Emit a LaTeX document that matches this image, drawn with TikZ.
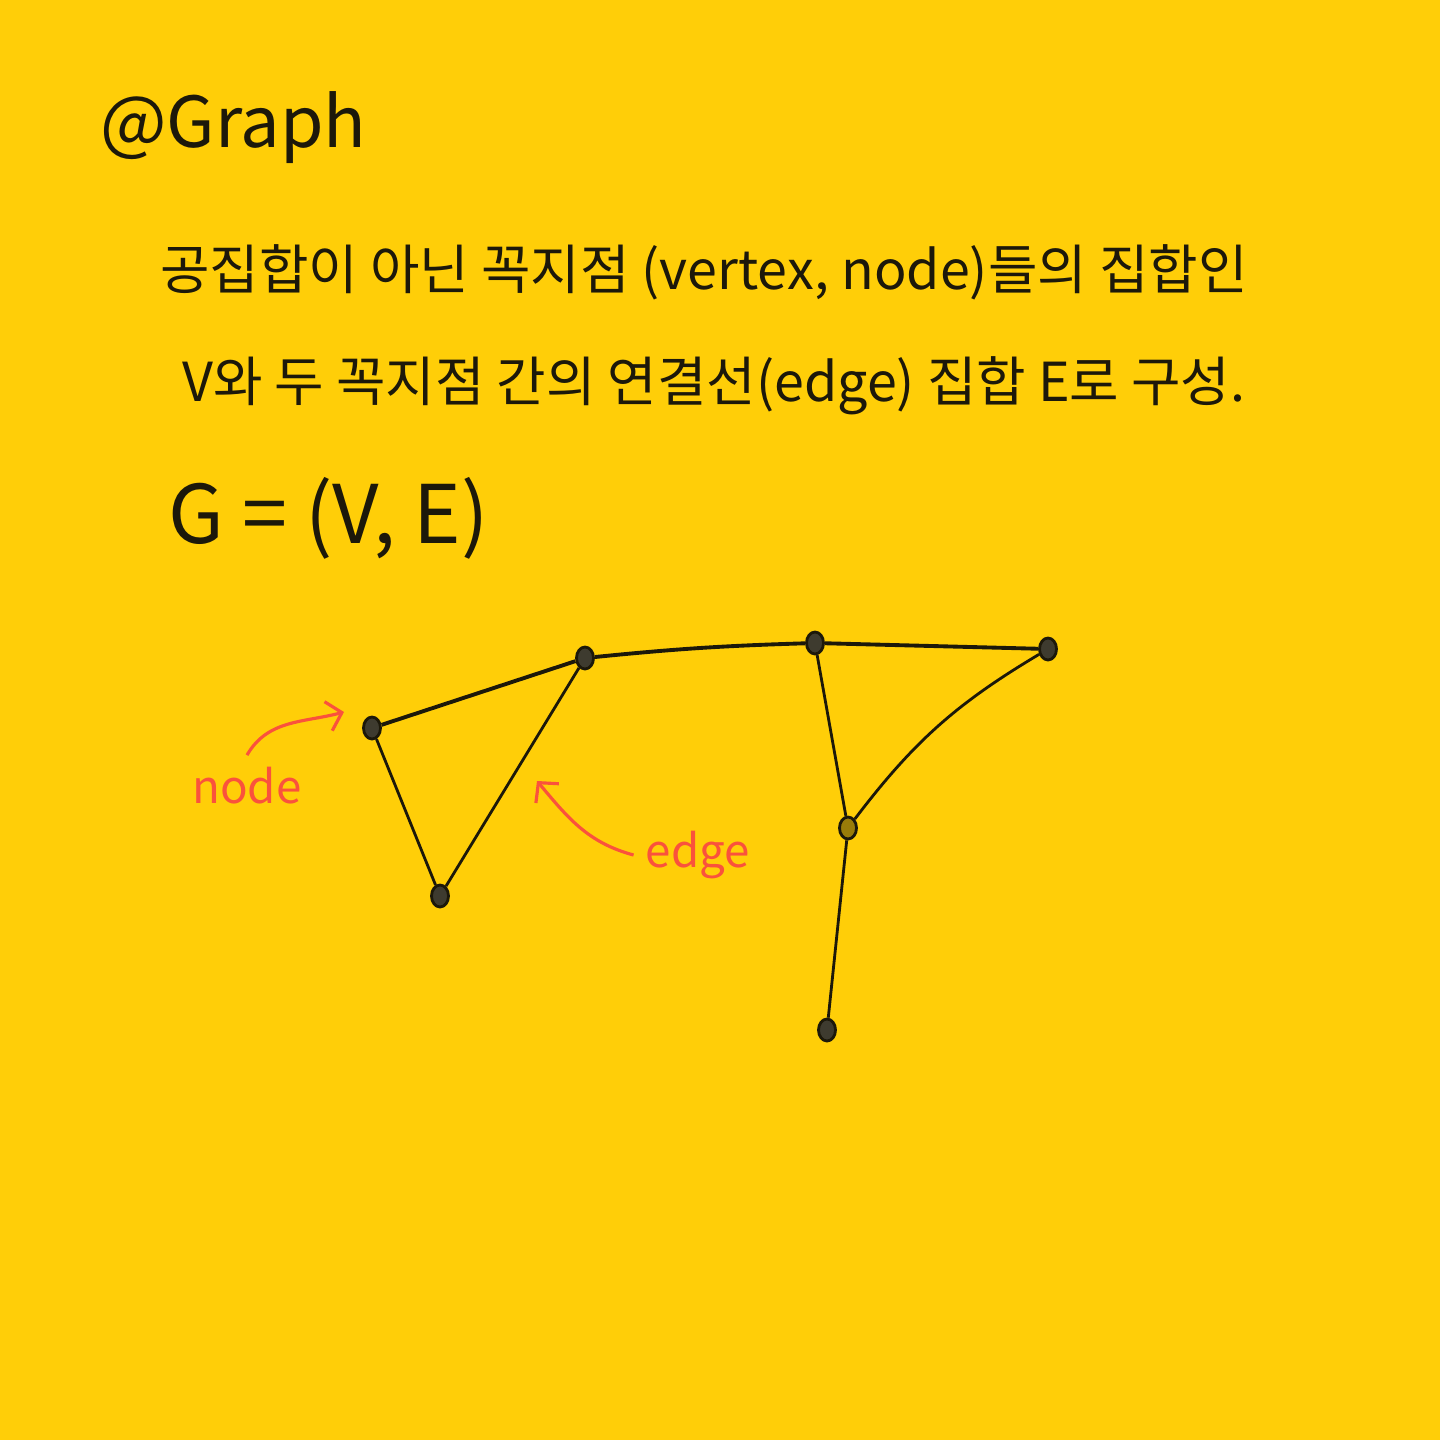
\documentclass[tikz,border=0pt]{standalone}
\usepackage{fontspec}
\setmainfont{Noto Sans CJK KR}
\definecolor{paper}{RGB}{255, 206, 8}
\definecolor{pencil}{RGB}{28, 24, 10}
\definecolor{marker}{RGB}{250, 82, 60}
\usepackage{tikz}
\usetikzlibrary{shapes.geometric, arrows.meta}

\begin{document}
\begin{tikzpicture}
        % Paper
        \fill[paper] (0,0) rectangle (14.4,-14.4);
        \useasboundingbox (0,0) rectangle (14.4,-14.4);

        % Title and definition
        \node[anchor=west, font=\fontsize{20}{24}\selectfont, text=pencil] (title) at (0.88,-1.28) {@Graph};
        \node[anchor=west, font=\fontsize{15.3}{18}\selectfont, text=pencil] (line1) at (1.48,-2.72) {공집합이 아닌 꼭지점 (vertex, node)들의 집합인};
        \node[anchor=west, font=\fontsize{15.3}{18}\selectfont, text=pencil] (line2) at (1.70,-3.86) {V와 두 꼭지점 간의 연결선(edge) 집합 E로 구성.};
        \node[anchor=west, font=\fontsize{23}{27}\selectfont, text=pencil] (formula) at (1.56,-5.18) {G = (V, E)};

        % Vertices
        \foreach \n/\x/\y/\col in {a/3.72/-7.28/pencil!85, b/5.85/-6.58/pencil!85, c/8.15/-6.43/pencil!85, d/10.48/-6.49/pencil!85,
                                   e/8.48/-8.28/paper!55!pencil, f/4.40/-8.96/pencil!85, g/8.27/-10.30/pencil!85} {
            \node[ellipse, draw=pencil, thick, fill=\col, minimum width=0.17cm, minimum height=0.22cm, inner sep=0pt]
                (\n) at (\x,\y) {};
        }

        % Edges
        \draw[pencil, line width=1.1pt] (a) -- (b);
        \draw[pencil, line width=1.1pt] (b) to[bend left=2] (c);
        \draw[pencil, line width=1.1pt] (c) -- (d);
        \foreach \u/\v in {a/f, f/b, c/e, e/g} {
            \draw[pencil, line width=0.8pt] (\u) -- (\v);
        }
        \draw[pencil, line width=0.8pt] (e) to[bend left=11] (d);

        % Labels
        \node[font=\fontsize{13}{16}\selectfont, text=marker] (lblnode) at (2.47,-7.86) {node};
        \node[font=\fontsize{13}{16}\selectfont, text=marker] (lbledge) at (6.98,-8.55) {edge};
        \coordinate (nodetip) at (3.44,-7.12);
        \coordinate (edgetip) at (5.37,-7.81);
        \draw[marker, line width=0.9pt, -{Straight Barb[length=1.4mm, width=3mm]}]
            (lblnode.north) to[out=60, in=195] (nodetip);
        \draw[marker, line width=0.9pt, -{Straight Barb[length=1.4mm, width=3mm]}]
            (lbledge.west) to[out=165, in=-50] (edgetip);
\end{tikzpicture}
\end{document}
